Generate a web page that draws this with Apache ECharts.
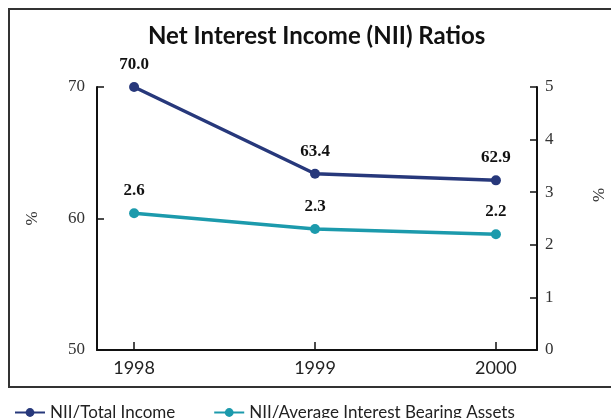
<!DOCTYPE html>
<html>
<head>
<meta charset="utf-8">
<script src="https://cdn.jsdelivr.net/npm/echarts@6/dist/echarts.min.js"></script>
<style>html,body{margin:0;padding:0;background:#fff}#c{width:611px;height:418px}</style>
</head>
<body>
<div id="c"></div>
<script>
const years = [1998, 1999, 2000];
const niiTotalIncome = [70.0, 63.4, 62.9];
const niiAvgAssets = [2.6, 2.3, 2.2];
const seriesNames = ['NII/Total Income', 'NII/Average Interest Bearing Assets'];
const titleText = 'Net Interest Income (NII) Ratios';

const navy = '#27387b';
const cyan = '#1c9aac';
const serif = '"Liberation Serif", serif';
const sans = 'Lato, "Open Sans", sans-serif';

const chart = echarts.init(document.getElementById('c'), null, {renderer: 'canvas'});
const labelStyle = {show: true, position: 'top', distance: 9, fontFamily: serif, fontWeight: 'bold', fontSize: 17, color: '#111',
  formatter: p => p.value[1].toFixed(1)};
chart.setOption({
  animation: false,
  title: {text: titleText, left: 143, top: 19, textStyle: {fontFamily: sans, fontWeight: 'bold', fontSize: 24, color: '#111'}},
  grid: {left: 97, right: 74, top: 87, bottom: 68},
  legend: {left: 9, top: 399, itemWidth: 30, itemHeight: 11, itemGap: 38,
    textStyle: {fontFamily: sans, fontSize: 17, color: '#222'},
    data: seriesNames},
  xAxis: {type: 'value', min: 1997.795, max: 2000.227,
    axisLine: {show: true, lineStyle: {color: '#111', width: 2}},
    axisTick: {show: true, inside: true, length: 8, customValues: years, lineStyle: {color: '#111', width: 1.5}},
    axisLabel: {customValues: years, formatter: v => String(v), margin: 9, fontFamily: sans, fontSize: 18, color: '#222'},
    splitLine: {show: false}},
  yAxis: [
    {type: 'value', min: 50, max: 70, interval: 10, position: 'left',
      name: '%', nameLocation: 'middle', nameRotate: 90, nameGap: 56,
      nameTextStyle: {fontFamily: serif, fontSize: 17, color: '#333'},
      axisLine: {show: true, lineStyle: {color: '#111', width: 2}},
      axisTick: {show: true, inside: true, length: 7, lineStyle: {color: '#111', width: 1.5}},
      axisLabel: {margin: 12, fontFamily: serif, fontSize: 17, color: '#333', padding: [0, 0, 8, 0]},
      splitLine: {show: false}},
    {type: 'value', min: 0, max: 5, interval: 1, position: 'right',
      axisLine: {show: true, lineStyle: {color: '#111', width: 2}},
      axisTick: {show: true, inside: true, length: 7, lineStyle: {color: '#111', width: 1.5}},
      axisLabel: {margin: 8, fontFamily: serif, fontSize: 17, color: '#333', padding: [0, 0, 8, 0]},
      splitLine: {show: false}}
  ],
  graphic: [
    {type: 'rect', shape: {x: 9, y: 9, width: 640, height: 378}, style: {fill: 'none', stroke: '#333', lineWidth: 2}, silent: true},
    {type: 'text', x: 600, y: 195, rotation: Math.PI / 2, style: {text: '%', fontFamily: serif, fontSize: 17, fill: '#333', align: 'center', verticalAlign: 'middle'}}
  ],
  series: [
    {name: seriesNames[0], type: 'line', yAxisIndex: 0, data: years.map((y, i) => [y, niiTotalIncome[i]]),
      symbol: 'circle', symbolSize: 10, itemStyle: {color: navy}, lineStyle: {color: navy, width: 3.5}, label: labelStyle},
    {name: seriesNames[1], type: 'line', yAxisIndex: 1, data: years.map((y, i) => [y, niiAvgAssets[i]]),
      symbol: 'circle', symbolSize: 10, itemStyle: {color: cyan}, lineStyle: {color: cyan, width: 3.5}, label: labelStyle}
  ]
});
</script>
</body>
</html>
